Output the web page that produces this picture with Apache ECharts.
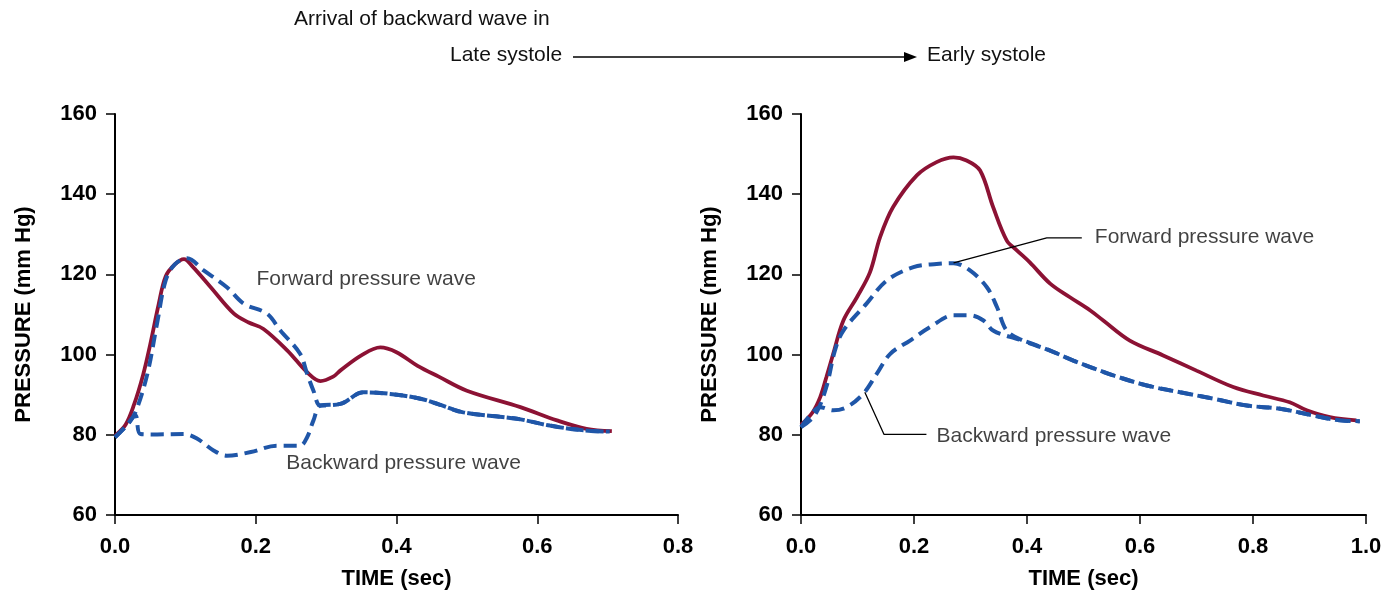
<!DOCTYPE html>
<html><head><meta charset="utf-8">
<script src="https://cdn.jsdelivr.net/npm/echarts@6/dist/echarts.min.js"></script>
<style>html,body{margin:0;padding:0;background:#fff}#c{width:1389px;height:590px}</style>
</head><body><div id="c"></div>
<script>
// ---- Tick labels / axes ----
const yTicks = [60, 80, 100, 120, 140, 160];
const leftXMax = 0.8;
const rightXMax = 1.0;

// ---- Left panel (late systole) ----
const leftMeasured = [[0.0,79.8],[0.015,82.5],[0.027,87.5],[0.04,95],[0.05,102.5],[0.062,112.5],[0.072,119.5],[0.085,122.5],[0.098,123.8],[0.11,122],[0.136,116.8],[0.169,110.2],[0.19,108],[0.211,106.4],[0.245,101],[0.273,95.6],[0.292,93.4],[0.31,94.5],[0.32,96],[0.35,99.8],[0.377,101.8],[0.40,100.6],[0.43,97.2],[0.46,94.5],[0.50,91.0],[0.576,86.9],[0.628,83.6],[0.67,81.5],[0.706,80.9]];
const leftForward = [[0.0,79.4],[0.02,83],[0.03,86],[0.046,95.2],[0.06,108],[0.072,118.5],[0.085,122.5],[0.1025,124],[0.126,121],[0.159,116.8],[0.183,112.7],[0.216,110.2],[0.235,106],[0.263,100.2],[0.273,95.2],[0.282,91],[0.292,87.3],[0.32,87.7],[0.353,90.6],[0.391,90.2],[0.434,89.0],[0.46,87.6],[0.495,85.6],[0.571,84.0],[0.618,82.3],[0.666,81.1],[0.703,80.8]];
const leftBackward = [[0.0,79.4],[0.015,82],[0.029,84.8],[0.036,80.2],[0.06,80.1],[0.098,80.2],[0.117,79.0],[0.14,76.1],[0.159,74.8],[0.193,75.7],[0.23,77.3],[0.263,77.3],[0.273,79.4],[0.282,83.6],[0.292,87.3],[0.32,87.7],[0.353,90.6],[0.391,90.2],[0.434,89.0],[0.46,87.6],[0.495,85.6],[0.571,84.0],[0.618,82.3],[0.666,81.1],[0.703,80.8]];

// ---- Right panel (early systole) ----
const rightMeasured = [[0.0,82.5],[0.02,85.5],[0.034,89.4],[0.045,94.4],[0.057,100.2],[0.075,108.5],[0.099,114.3],[0.122,120.5],[0.14,129.3],[0.163,136.8],[0.205,144.7],[0.24,148],[0.27,149.2],[0.293,148.4],[0.317,145.9],[0.34,136.8],[0.364,128.5],[0.382,126],[0.405,123],[0.441,117.7],[0.476,114.3],[0.512,111],[0.535,108.5],[0.582,103.5],[0.641,99.8],[0.70,96.0],[0.765,91.9],[0.818,89.8],[0.865,88.1],[0.895,86.1],[0.936,84.4],[0.983,83.6]];
const rightForward = [[0.0,81.9],[0.025,85],[0.045,92],[0.06,101],[0.075,106],[0.116,112.7],[0.152,118.5],[0.199,121.8],[0.24,122.6],[0.27,122.8],[0.299,121],[0.329,116.8],[0.347,111.8],[0.364,106],[0.393,103.5],[0.441,101],[0.482,98.5],[0.512,96.9],[0.553,94.8],[0.612,92.3],[0.671,90.6],[0.73,89.0],[0.789,87.3],[0.848,86.5],[0.907,84.8],[0.954,83.6],[0.989,83.4]];
const rightBackward = [[0.0,81.9],[0.02,85.5],[0.034,86.9],[0.057,86.1],[0.081,86.9],[0.11,90.2],[0.134,95.2],[0.158,100.2],[0.193,103.5],[0.228,106.8],[0.27,109.8],[0.299,109.8],[0.323,108.5],[0.34,106],[0.37,104.4],[0.393,103.5],[0.441,101],[0.482,98.5],[0.512,96.9],[0.553,94.8],[0.612,92.3],[0.671,90.6],[0.73,89.0],[0.789,87.3],[0.848,86.5],[0.907,84.8],[0.954,83.6],[0.989,83.4]];

// ---- Annotations (data coordinates) ----
const leftLabels = [{text:'Forward pressure wave', at:[0.201,118.7]}, {text:'Backward pressure wave', at:[0.2435,72.8]}];
const rightLabels = [{text:'Forward pressure wave', at:[0.52,129.3]}, {text:'Backward pressure wave', at:[0.24,79.6]}];
const rightForwardLeader = [[0.27,122.9],[0.435,129.1],[0.497,129.1]];
const rightBackwardLeader = [[0.113,90.6],[0.147,80.1],[0.222,80.1]];

const topTitle = 'Arrival of backward wave in';
const arrowFrom = 'Late systole';
const arrowTo = 'Early systole';

const FONT = '"Liberation Sans", Arial, Helvetica, sans-serif';
const RED = '#8C1234';
const BLUE = '#1F56A8';

function xAxis(idx, max){
  return {gridIndex: idx, type:'value', min:0, max:max, interval:0.2,
    name:'TIME (sec)', nameLocation:'middle', nameGap:53,
    nameTextStyle:{fontFamily:FONT, fontWeight:'bold', fontSize:22, color:'#000'},
    axisLine:{lineStyle:{color:'#000', width:2}},
    axisTick:{show:true, length:9, lineStyle:{color:'#000', width:1.5}},
    axisLabel:{formatter:v=>v.toFixed(1), margin:21, fontFamily:FONT, fontWeight:'bold', fontSize:22, color:'#000'},
    splitLine:{show:false}};
}
function yAxis(idx){
  return {gridIndex: idx, type:'value', min:yTicks[0], max:yTicks[yTicks.length-1], interval:20,
    name:'PRESSURE (mm Hg)', nameLocation:'middle', nameGap:80, nameRotate:90,
    nameTextStyle:{fontFamily:FONT, fontWeight:'bold', fontSize:22, color:'#000'},
    axisLine:{show:true, lineStyle:{color:'#000', width:2}},
    axisTick:{show:true, length:9, lineStyle:{color:'#000', width:1.5}},
    axisLabel:{margin:18, fontFamily:FONT, fontWeight:'bold', fontSize:22, color:'#000'},
    splitLine:{show:false}};
}
function curve(idx, data, color, dashed){
  return {type:'line', xAxisIndex:idx, yAxisIndex:idx, data:data, smooth:0.35, showSymbol:false, symbol:'none',
    lineStyle:{color:color, width:dashed?4:3.8, type: dashed ? [13,7] : 'solid', cap:'butt'}, z: dashed?3:2};
}
function labels(idx, list){
  return {type:'scatter', xAxisIndex:idx, yAxisIndex:idx, symbolSize:0, silent:true,
    data:list.map(l=>({value:l.at, label:{formatter:l.text}})),
    label:{show:true, position:'right', distance:0, fontFamily:FONT, fontSize:21, color:'#111'}};
}
function leader(idx, data){
  return {type:'line', xAxisIndex:idx, yAxisIndex:idx, data:data, showSymbol:false, symbol:'none', silent:true,
    lineStyle:{color:'#000', width:1.3}, z:4};
}

const chart = echarts.init(document.getElementById('c'), null, {renderer:'canvas'});
chart.setOption({
  animation:false,
  backgroundColor:'#fff',
  grid:[{left:115, top:114, width:563, height:401, containLabel:false, outerBoundsMode:'none'},
        {left:801, top:114, width:565, height:401, containLabel:false, outerBoundsMode:'none'}],
  xAxis:[xAxis(0,leftXMax), xAxis(1,rightXMax)],
  yAxis:[yAxis(0), yAxis(1)],
  series:[
    curve(0, leftMeasured, RED, false),
    curve(0, leftForward, BLUE, true),
    curve(0, leftBackward, BLUE, true),
    labels(0, leftLabels),
    curve(1, rightMeasured, RED, false),
    curve(1, rightForward, BLUE, true),
    curve(1, rightBackward, BLUE, true),
    leader(1, rightForwardLeader),
    leader(1, rightBackwardLeader),
    labels(1, rightLabels)
  ],
  graphic:[
    {type:'text', left:294, top:9, style:{text:topTitle, font:'21px '+FONT, fill:'#111'}},
    {type:'text', left:450, top:45, style:{text:arrowFrom, font:'21px '+FONT, fill:'#111'}},
    {type:'line', shape:{x1:573, y1:57, x2:910, y2:57}, style:{stroke:'#000', lineWidth:1.5}},
    {type:'polygon', shape:{points:[[904,52],[917,57],[904,62]]}, style:{fill:'#000'}},
    {type:'text', left:927, top:45, style:{text:arrowTo, font:'21px '+FONT, fill:'#111'}}
  ]
});
</script></body></html>
